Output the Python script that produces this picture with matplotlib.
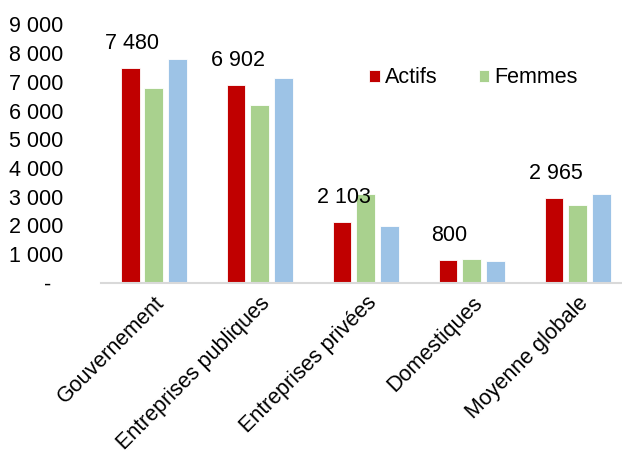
import numpy as np
import matplotlib.pyplot as plt
from matplotlib.ticker import FuncFormatter

plt.rcParams['font.family'] = ['Liberation Sans', 'DejaVu Sans']

# Données par secteur
secteurs = ['Gouvernement', 'Entreprises publiques', 'Entreprises privées',
            'Domestiques', 'Moyenne globale']
actifs = [7480, 6902, 2103, 800, 2965]
femmes = [6800, 6200, 3080, 830, 2710]
hommes = [7800, 7150, 1980, 770, 3080]

rouge = '#C00000'
vert = '#A9D18E'
bleu = '#9DC3E6'
fs = 15.5

fig = plt.figure(figsize=(6.22, 4.53), dpi=100)
# l'axe déborde à droite de la figure
ax = fig.add_axes([0.162, 0.376, 0.852, 0.570])

x = np.arange(len(secteurs))
w = 0.175
pas = 0.222
b1 = ax.bar(x - pas, actifs, w, color=rouge, edgecolor='white', linewidth=0.6, label='Actifs')
b2 = ax.bar(x, femmes, w, color=vert, edgecolor='white', linewidth=0.6, label='Femmes')
b3 = ax.bar(x + pas, hommes, w, color=bleu, edgecolor='white', linewidth=0.6)

# étiquettes de valeur sur la série Actifs
for xi, v in zip(x - pas, actifs):
    ax.annotate(f'{v:,}'.replace(',', ' '), (xi, v), xytext=(1, 10),
                textcoords='offset points', ha='center', va='bottom', fontsize=fs)

ax.set_xlim(-0.5, len(secteurs) - 0.5)
ax.set_ylim(0, 9000)
ax.set_yticks(np.arange(0, 9001, 1000))
ax.yaxis.set_major_formatter(FuncFormatter(
    lambda v, p: '-  ' if v == 0 else f'{int(v):,}'.replace(',', ' ')))
ax.set_xticks(x)
ax.set_xticklabels(secteurs, rotation=45, ha='right', rotation_mode='anchor', fontsize=fs)
ax.tick_params(axis='y', length=0, labelsize=fs, pad=27)
ax.tick_params(axis='x', length=0, pad=7)
for lbl in ax.get_yticklabels():
    lbl.set_horizontalalignment('right')

for s in ['top', 'right', 'left']:
    ax.spines[s].set_visible(False)
ax.spines['bottom'].set_color('#D9D9D9')
ax.spines['bottom'].set_linewidth(1.5)

fig.legend(handles=[b1, b2], loc='center left', bbox_to_anchor=(0.593, 0.828),
           ncol=2, frameon=False, fontsize=fs, handlelength=0.5, handleheight=0.5,
           handletextpad=0.25, columnspacing=1.9, borderpad=0, borderaxespad=0)

fig.savefig('out.png', dpi=100)
